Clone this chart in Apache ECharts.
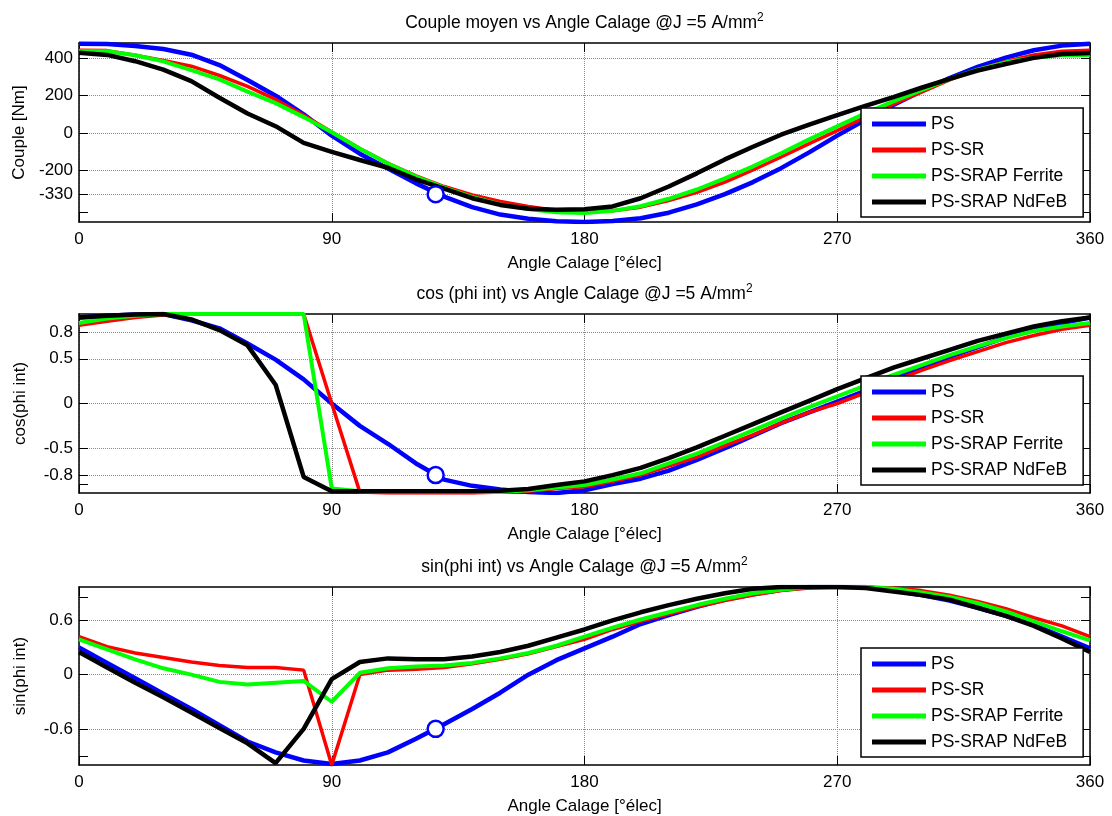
<!DOCTYPE html>
<html><head><meta charset="utf-8">
<script src="https://cdn.jsdelivr.net/npm/echarts@6/dist/echarts.min.js"></script>
<style>html,body{margin:0;padding:0;background:#fff}#c{width:1112px;height:816px}</style>
</head><body><div id="c"></div>
<script>
// ---------- data ----------
const angles = [0,10,20,30,40,50,60,70,80,90,100,110,120,130,140,150,160,170,180,190,200,210,220,230,240,250,260,270,280,290,300,310,320,330,340,350,360];
const seriesNames = ['PS','PS-SR','PS-SRAP Ferrite','PS-SRAP NdFeB'];

const couplePS      = [480,479,468,452,421,365,285,200,100,-15,-112,-192,-272,-343,-400,-440,-462,-476,-480,-475,-460,-430,-385,-330,-265,-190,-105,-15,70,150,225,295,355,405,445,470,480];
const coupleSR      = [445,443,418,390,359,309,250,180,95,5,-84,-164,-232,-289,-334,-370,-396,-418,-428,-420,-400,-365,-320,-265,-200,-130,-58,12,85,155,220,285,340,385,420,440,445];
const coupleFerrite = [440,440,418,385,338,288,222,160,85,3,-85,-165,-235,-295,-345,-385,-410,-428,-432,-420,-395,-355,-305,-245,-180,-110,-35,35,105,170,230,290,340,380,405,418,420];
const coupleNdFeB   = [432,420,386,341,279,189,104,36,-54,-102,-146,-188,-250,-300,-352,-388,-409,-414,-411,-396,-352,-289,-218,-143,-75,-10,45,95,145,193,243,291,336,371,404,425,430];

const cosPS      = [0.96,0.98,0.995,1.0,0.93,0.84,0.67,0.49,0.27,0.0,-0.25,-0.45,-0.67,-0.85,-0.92,-0.96,-0.99,-1.0,-0.97,-0.9,-0.84,-0.75,-0.63,-0.5,-0.36,-0.22,-0.1,0.02,0.14,0.27,0.4,0.52,0.63,0.74,0.83,0.9,0.96];
const cosSR      = [0.875,0.92,0.96,0.99,1.0,1.0,1.0,1.0,1.0,0.0,-0.99,-1.0,-1.0,-1.0,-1.0,-0.99,-0.98,-0.95,-0.93,-0.87,-0.8,-0.7,-0.6,-0.47,-0.35,-0.22,-0.1,0.0,0.12,0.25,0.37,0.48,0.58,0.68,0.76,0.83,0.875];
const cosFerrite = [0.9,0.95,0.98,1.0,1.0,1.0,1.0,1.0,1.0,-0.95,-0.98,-0.99,-0.99,-0.99,-0.99,-0.99,-0.97,-0.94,-0.91,-0.85,-0.78,-0.67,-0.56,-0.43,-0.3,-0.17,-0.04,0.08,0.2,0.32,0.43,0.54,0.64,0.73,0.81,0.86,0.9];
const cosNdFeB   = [0.96,0.98,0.995,1.0,0.94,0.82,0.65,0.21,-0.82,-0.98,-0.98,-0.98,-0.98,-0.98,-0.98,-0.975,-0.955,-0.91,-0.87,-0.8,-0.72,-0.61,-0.49,-0.36,-0.23,-0.1,0.03,0.16,0.28,0.4,0.5,0.6,0.7,0.78,0.86,0.92,0.96];

const sinPS      = [0.3,0.13,-0.04,-0.21,-0.38,-0.56,-0.74,-0.86,-0.95,-0.99,-0.95,-0.86,-0.71,-0.55,-0.38,-0.2,0.0,0.16,0.29,0.42,0.56,0.66,0.75,0.83,0.89,0.94,0.97,0.97,0.97,0.93,0.88,0.82,0.74,0.65,0.55,0.42,0.29];
const sinSR      = [0.42,0.31,0.24,0.19,0.14,0.1,0.08,0.08,0.05,-1.0,0.0,0.05,0.06,0.08,0.12,0.17,0.23,0.31,0.39,0.5,0.59,0.67,0.75,0.82,0.88,0.93,0.96,0.97,0.97,0.96,0.93,0.88,0.81,0.73,0.63,0.54,0.42];
const sinFerrite = [0.39,0.28,0.17,0.07,0.0,-0.08,-0.11,-0.09,-0.07,-0.3,0.02,0.07,0.09,0.1,0.13,0.18,0.24,0.32,0.42,0.52,0.61,0.69,0.77,0.84,0.9,0.94,0.97,0.97,0.97,0.95,0.91,0.86,0.79,0.7,0.59,0.48,0.38];
const sinNdFeB   = [0.25,0.08,-0.09,-0.25,-0.42,-0.59,-0.76,-0.98,-0.6,-0.05,0.14,0.18,0.17,0.17,0.2,0.25,0.32,0.41,0.5,0.6,0.69,0.77,0.84,0.9,0.95,0.97,0.97,0.97,0.96,0.92,0.88,0.83,0.74,0.65,0.54,0.4,0.25];

// operating point marker (PS)
const markerAngle = 127;
const markerValues = [-330, -0.8, -0.6];

// axes
const xTicks = [0, 90, 180, 270, 360];
const coupleTicks = [-330, -200, 0, 200, 400];
const cosTicks = [-0.8, -0.5, 0, 0.5, 0.8];
const sinTicks = [-0.6, 0, 0.6];
const coupleExtraTicks = [-427, 440];
const cosExtraTicks = [-0.9, 0.9];
const sinExtraTicks = [-0.9, 0.86];
const yRanges = [[-480, 484], [-1, 1], [-1, 0.97]];
const yNames = ['Couple [Nm]', 'cos(phi int)', 'sin(phi int)'];
const titles = ['Couple moyen vs Angle Calage @J =5 A/mm', 'cos (phi int) vs Angle Calage @J =5 A/mm', 'sin(phi int) vs Angle Calage @J =5 A/mm'];
const xName = 'Angle Calage [°élec]';

// ---------- chart ----------
const FONT = "'Liberation Sans', Arial, Helvetica, sans-serif";
const colors = ['#0000ff', '#ff0000', '#00ff00', '#000000'];
const widths = [4.5, 3.5, 4, 4.5];
const panelData = [
  [couplePS, coupleSR, coupleFerrite, coupleNdFeB],
  [cosPS, cosSR, cosFerrite, cosNdFeB],
  [sinPS, sinSR, sinFerrite, sinNdFeB]
];
const yTicks = [coupleTicks, cosTicks, sinTicks];
const yExtra = [coupleExtraTicks, cosExtraTicks, sinExtraTicks];
const gridTops = [43, 314, 587];
const gridHeights = [179, 179, 180];
const legendTops = [108, 376, 648];

const grid = [], xAxis = [], yAxis = [], series = [], legend = [], graphic = [];
const axisLineStyle = { color: '#000', width: 1.5 };
const labelStyle = { color: '#000', fontSize: 17, fontFamily: FONT };

for (let i = 0; i < 3; i++) {
  grid.push({ left: 79, right: 22, top: gridTops[i], height: gridHeights[i], show: true, backgroundColor: '#fff', borderWidth: 0 });
  xAxis.push({
    type: 'value', gridIndex: i, min: 0, max: 360, interval: 90, position: 'bottom',
    axisLine: { show: true, onZero: false, lineStyle: axisLineStyle },
    axisTick: { show: true, inside: true, length: 9, lineStyle: { color: '#000', width: 1 } },
    axisLabel: Object.assign({ show: true, margin: 9 }, labelStyle),
    splitLine: { show: true, lineStyle: { type: 'dotted', color: '#8a8a8a', width: 1 } },
    name: xName, nameLocation: 'middle', nameGap: 33, nameTextStyle: labelStyle
  });
  xAxis.push({
    type: 'value', gridIndex: i, min: 0, max: 360, interval: 90, position: 'top',
    axisLine: { show: true, onZero: false, lineStyle: axisLineStyle },
    axisTick: { show: true, inside: true, length: 9, lineStyle: { color: '#000', width: 1 } },
    axisLabel: { show: false }, splitLine: { show: false }
  });
  const [ymin, ymax] = yRanges[i];
  yAxis.push({
    type: 'value', gridIndex: i, min: ymin, max: ymax, position: 'left',
    axisLine: { show: true, onZero: false, lineStyle: axisLineStyle },
    axisTick: { show: true, inside: true, length: 9, customValues: yTicks[i], lineStyle: { color: '#000', width: 1 } },
    axisLabel: Object.assign({ show: true, margin: 6, customValues: yTicks[i] }, labelStyle),
    splitLine: { show: true, lineStyle: { type: 'dotted', color: '#8a8a8a', width: 1 } },
    name: yNames[i], nameLocation: 'middle', nameGap: 50, nameTextStyle: labelStyle
  });
  yAxis.push({
    type: 'value', gridIndex: i, min: ymin, max: ymax, position: 'right',
    axisLine: { show: true, onZero: false, lineStyle: axisLineStyle },
    axisTick: { show: true, inside: true, length: 9, customValues: yTicks[i].concat(yExtra[i]), lineStyle: { color: '#000', width: 1 } },
    axisLabel: { show: false }, splitLine: { show: false }
  });
  yAxis.push({
    type: 'value', gridIndex: i, min: ymin, max: ymax, position: 'left',
    axisLine: { show: false },
    axisTick: { show: true, inside: true, length: 9, customValues: yExtra[i], lineStyle: { color: '#000', width: 1 } },
    axisLabel: { show: false }, splitLine: { show: false }
  });
  for (let s = 0; s < 4; s++) {
    series.push({
      type: 'line', name: seriesNames[s], xAxisIndex: i * 2, yAxisIndex: i * 3,
      data: angles.map((a, k) => [a, panelData[i][s][k]]),
      showSymbol: false, symbol: 'none', clip: true, animation: false, z: 3 + s,
      lineStyle: { color: colors[s], width: widths[s] }, itemStyle: { color: colors[s] }
    });
  }
  series.push({
    type: 'scatter', name: 'point', xAxisIndex: i * 2, yAxisIndex: i * 3,
    data: [[markerAngle, markerValues[i]]], symbol: 'circle', symbolSize: 16, z: 10, animation: false,
    itemStyle: { color: '#ffffff', opacity: 1, borderColor: '#0000ff', borderWidth: 2.5 },
    emphasis: { disabled: true }
  });
  legend.push({
    orient: 'vertical', left: 861, top: legendTops[i], selectedMode: false,
    data: seriesNames.map(n => ({ name: n, icon: 'rect' })),
    itemWidth: 54, itemHeight: 5, itemGap: 6, padding: [6, 16, 5, 11],
    borderColor: '#000', borderWidth: 1.5, borderRadius: 0, backgroundColor: '#fff',
    textStyle: { color: '#000', fontSize: 17.5, fontFamily: FONT, lineHeight: 20 }, z: 20
  });
  graphic.push({
    type: 'text', x: 584.5, y: gridTops[i] - 20, z: 30,
    style: {
      text: '{t|' + titles[i] + '}{s|2}', align: 'center', verticalAlign: 'middle',
      rich: {
        t: { fontSize: 17.5, fontFamily: FONT, fill: '#000', lineHeight: 22 },
        s: { fontSize: 12, fontFamily: FONT, fill: '#000', verticalAlign: 'top', lineHeight: 12 }
      }
    }
  });
}

const chart = echarts.init(document.getElementById('c'), null, { renderer: 'canvas' });
chart.setOption({ animation: false, backgroundColor: '#fff', grid, xAxis, yAxis, series, legend, graphic });
</script></body></html>
